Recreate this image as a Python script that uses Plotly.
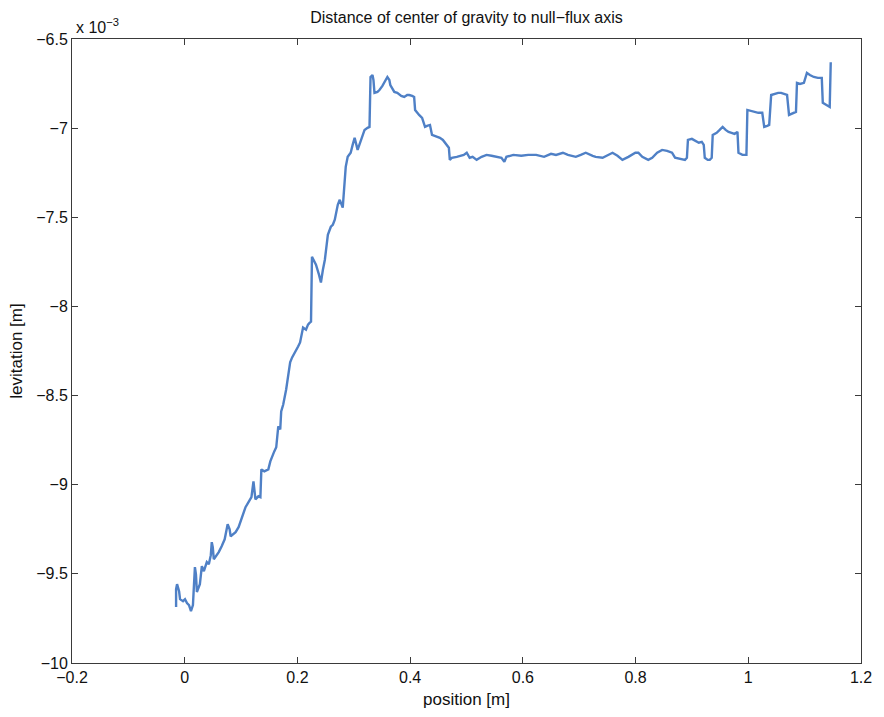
import plotly.graph_objects as go

# position [m]
position = [
    -0.0153, -0.0153, -0.0136, -0.0100, -0.0083, -0.0030, 0.0005, 0.0040, 0.0076, 0.0111,
    0.0146, 0.0181, 0.0199, 0.0216, 0.0269, 0.0304, 0.0340, 0.0392, 0.0428, 0.0463,
    0.0480, 0.0498, 0.0516, 0.0568, 0.0604, 0.0656, 0.0709, 0.0762, 0.0797, 0.0815,
    0.0868, 0.0903, 0.0956, 0.0991, 0.1044, 0.1079, 0.1132, 0.1184, 0.1220, 0.1237,
    0.1255, 0.1308, 0.1343, 0.1360, 0.1413, 0.1484, 0.1519, 0.1589, 0.1624, 0.1660,
    0.1695, 0.1712, 0.1748, 0.1800, 0.1836, 0.1871, 0.1906, 0.1959, 0.2012, 0.2047,
    0.2100, 0.2152, 0.2188, 0.2223, 0.2241, 0.2258, 0.2294, 0.2329, 0.2382, 0.2417,
    0.2452, 0.2487, 0.2540, 0.2593, 0.2628, 0.2663, 0.2716, 0.2751, 0.2804, 0.2857,
    0.2892, 0.2945, 0.2980, 0.3015, 0.3068, 0.3120, 0.3191, 0.3244, 0.3279, 0.3297,
    0.3332, 0.3349, 0.3367, 0.3420, 0.3455, 0.3508, 0.3543, 0.3596, 0.3631, 0.3648,
    0.3719, 0.3772, 0.3842, 0.3895, 0.3948, 0.3983, 0.4036, 0.4071, 0.4088, 0.4124,
    0.4159, 0.4212, 0.4264, 0.4300, 0.4352, 0.4388, 0.4440, 0.4528, 0.4581, 0.4616,
    0.4652, 0.4687, 0.4704, 0.4740, 0.4828, 0.4916, 0.4951, 0.5004, 0.5056, 0.5109,
    0.5180, 0.5268, 0.5356, 0.5444, 0.5532, 0.5620, 0.5672, 0.5708, 0.5831, 0.5972,
    0.6095, 0.6236, 0.6376, 0.6500, 0.6588, 0.6711, 0.6799, 0.6940, 0.7028, 0.7116,
    0.7239, 0.7292, 0.7415, 0.7503, 0.7591, 0.7679, 0.7767, 0.7873, 0.7996, 0.8049,
    0.8119, 0.8225, 0.8295, 0.8383, 0.8471, 0.8559, 0.8647, 0.8700, 0.8788, 0.8876,
    0.8911, 0.8929, 0.8999, 0.9052, 0.9122, 0.9175, 0.9210, 0.9228, 0.9281, 0.9316,
    0.9351, 0.9369, 0.9439, 0.9492, 0.9545, 0.9598, 0.9650, 0.9703, 0.9756, 0.9808,
    0.9826, 0.9896, 0.9967, 0.9984, 1.0037, 1.0107, 1.0178, 1.0248, 1.0266, 1.0283,
    1.0336, 1.0371, 1.0406, 1.0459, 1.0530, 1.0582, 1.0635, 1.0688, 1.0723, 1.0776,
    1.0846, 1.0864, 1.0917, 1.0987, 1.1040, 1.1093, 1.1163, 1.1234, 1.1304, 1.1322,
    1.1392, 1.1445, 1.1463,
]

# levitation [x 10^-3 m]
levitation = [
    -9.686, -9.586, -9.558, -9.597, -9.642, -9.653, -9.642, -9.664, -9.675, -9.709,
    -9.675, -9.462, -9.502, -9.602, -9.558, -9.457, -9.485, -9.434, -9.446, -9.395,
    -9.322, -9.350, -9.418, -9.395, -9.378, -9.345, -9.306, -9.222, -9.250, -9.289,
    -9.278, -9.266, -9.238, -9.205, -9.166, -9.126, -9.098, -9.070, -8.981, -9.026,
    -9.082, -9.065, -9.070, -8.914, -8.925, -8.914, -8.869, -8.813, -8.790, -8.673,
    -8.690, -8.589, -8.550, -8.466, -8.382, -8.314, -8.286, -8.258, -8.225, -8.202,
    -8.118, -8.130, -8.102, -8.090, -8.085, -7.721, -7.749, -7.766, -7.822, -7.866,
    -7.794, -7.738, -7.598, -7.553, -7.542, -7.514, -7.430, -7.402, -7.446, -7.217,
    -7.161, -7.138, -7.094, -7.054, -7.122, -7.077, -7.010, -6.998, -6.993, -6.713,
    -6.702, -6.730, -6.802, -6.797, -6.786, -6.763, -6.746, -6.713, -6.730, -6.758,
    -6.797, -6.802, -6.819, -6.825, -6.814, -6.814, -6.819, -6.825, -6.898, -6.914,
    -6.926, -6.942, -6.993, -6.987, -6.982, -7.038, -7.043, -7.054, -7.066, -7.082,
    -7.094, -7.110, -7.178, -7.166, -7.161, -7.155, -7.150, -7.138, -7.166, -7.161,
    -7.178, -7.161, -7.150, -7.155, -7.161, -7.166, -7.189, -7.161, -7.150, -7.155,
    -7.150, -7.150, -7.161, -7.144, -7.150, -7.138, -7.150, -7.161, -7.150, -7.138,
    -7.155, -7.161, -7.166, -7.150, -7.138, -7.155, -7.178, -7.161, -7.138, -7.138,
    -7.161, -7.178, -7.166, -7.138, -7.122, -7.127, -7.138, -7.166, -7.172, -7.178,
    -7.166, -7.066, -7.060, -7.071, -7.082, -7.077, -7.094, -7.166, -7.178, -7.178,
    -7.166, -7.038, -7.026, -7.010, -6.993, -7.010, -7.021, -7.026, -7.032, -7.021,
    -7.138, -7.150, -7.150, -6.898, -6.903, -6.909, -6.914, -6.914, -6.965, -6.993,
    -6.987, -6.982, -6.814, -6.808, -6.802, -6.802, -6.808, -6.814, -6.926, -6.920,
    -6.909, -6.746, -6.752, -6.746, -6.690, -6.702, -6.713, -6.718, -6.718, -6.858,
    -6.870, -6.881, -6.630,
]

x_ticks = [-0.2, 0, 0.2, 0.4, 0.6, 0.8, 1, 1.2]
x_tick_labels = ["\u22120.2", "0", "0.2", "0.4", "0.6", "0.8", "1", "1.2"]
y_ticks = [-10, -9.5, -9, -8.5, -8, -7.5, -7, -6.5]
y_tick_labels = ["\u221210", "\u22129.5", "\u22129", "\u22128.5", "\u22128", "\u22127.5", "\u22127", "\u22126.5"]

FONT = "Liberation Sans, Arial, Helvetica, sans-serif"

fig = go.Figure()
fig.add_trace(go.Scatter(
    x=position, y=levitation, mode="lines",
    line=dict(color="#4f80c6", width=2.4),
    hoverinfo="skip", showlegend=False,
))

axis_common = dict(
    showgrid=False, zeroline=False, showline=True, linecolor="#3a3a3a", linewidth=1,
    mirror="ticks", ticks="inside", ticklen=6, tickcolor="#3a3a3a",
    tickfont=dict(family=FONT, size=16, color="#111"),
)

fig.update_layout(
    width=884, height=717,
    margin=dict(l=72, r=16, t=39, b=53),
    paper_bgcolor="white", plot_bgcolor="white",
    font=dict(family=FONT, size=16, color="#111"),
    title=dict(text="Distance of center of gravity to null\u2212flux axis",
               xref="paper", x=0.5, xanchor="center", y=0.976, yanchor="middle",
               font=dict(family=FONT, size=16, color="#111")),
    xaxis=dict(range=[-0.2, 1.2], tickvals=x_ticks, ticktext=x_tick_labels,
               title=dict(text="position [m]", standoff=7, font=dict(family=FONT, size=17)),
               **axis_common),
    yaxis=dict(range=[-10, -6.5], tickvals=y_ticks, ticktext=y_tick_labels,
               title=dict(text="levitation [m]", standoff=9, font=dict(family=FONT, size=17)),
               **axis_common),
)

fig.add_annotation(
    xref="paper", yref="paper", x=0.0, y=1.0, xanchor="left", yanchor="bottom",
    text="x 10<sup>\u22123</sup>", showarrow=False, xshift=2, yshift=1,
    font=dict(family=FONT, size=16, color="#111"),
)

fig.write_html("out.html")
